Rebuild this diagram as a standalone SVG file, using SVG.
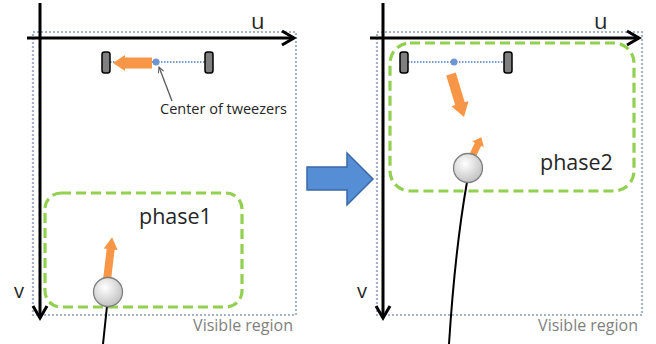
<svg xmlns="http://www.w3.org/2000/svg" width="656" height="344" viewBox="0 0 656 344">
<defs>
<style>
.vis{fill:none;stroke:#a8b3c8;stroke-width:2.2;stroke-dasharray:2 2}
.axis{fill:none;stroke:#000;stroke-width:3}
.head{fill:none;stroke:#000;stroke-width:3;stroke-linejoin:miter}
.phase{fill:none;stroke:#92d050;stroke-width:3.2;stroke-dasharray:10 5}
.tw{fill:#7f7f7f;stroke:#000;stroke-width:1.5}
.dl{stroke:#4a7fc8;stroke-width:1.5;stroke-dasharray:1.5 1.5}
.dot{fill:#6f95d0}
.or{fill:#f79646}
.ball{fill:url(#bg);stroke:#7f7f7f;stroke-width:1.3}
.wire{fill:none;stroke:#000;stroke-width:2}
.lbl{font-family:"Open Sans","Liberation Sans",sans-serif;fill:#262626}
.vr{font-family:"Open Sans","Liberation Sans",sans-serif;fill:#7f7f7f;font-size:16px}
</style>
<radialGradient id="bg" cx="0.4" cy="0.35" r="0.7">
<stop offset="0" stop-color="#ffffff"/>
<stop offset="1" stop-color="#bfbfbf"/>
</radialGradient>
<marker id="ptr" viewBox="0 0 10 10" refX="9" refY="5" markerWidth="7" markerHeight="7" orient="auto" markerUnits="userSpaceOnUse">
<path d="M1,1 L9,5 L1,9" fill="none" stroke="#595959" stroke-width="1.5"/>
</marker>
</defs>

<g id="panel1">
<rect class="vis" x="33" y="32" width="263" height="283"/>
<g id="phase1">
<rect class="phase" x="45" y="193" width="197" height="114" rx="16"/>
<text class="lbl" x="139" y="224" font-size="21.5">phase1</text>
</g>
<g id="axes1">
<line class="axis" x1="27" y1="38" x2="294" y2="38"/>
<path class="head" d="M282,31 L294,38 L282,45"/>
<line class="axis" x1="40" y1="3" x2="40" y2="318"/>
<path class="head" d="M33,306 L40,318 L47,306"/>
<text class="lbl" x="251" y="29" font-size="22">u</text>
<text class="lbl" x="14" y="298" font-size="20">v</text>
<text class="vr" x="293" y="331" text-anchor="end">Visible region</text>
</g>
<g id="tweezers1">
<line class="dl" x1="110" y1="62" x2="205" y2="62"/>
<rect class="tw" x="102" y="52" width="8" height="21" rx="2.5"/>
<rect class="tw" x="205" y="52" width="8" height="21" rx="2.5"/>
<polygon class="or" transform="translate(152,63) rotate(180)" points="0,-5.5 27,-5.5 27,-8 39,0 27,8 27,5.5 0,5.5"/>
<circle class="dot" cx="156" cy="62" r="3.5"/>
</g>
<g id="label-center">
<line x1="172" y1="101" x2="159" y2="67" stroke="#595959" stroke-width="1.3" marker-end="url(#ptr)"/>
<text class="lbl" x="160" y="114" font-size="14.5">Center of tweezers</text>
</g>
<g id="ball1">
<path class="wire" d="M107,306 L103,344"/>
<polygon class="or" transform="translate(107,280) rotate(-83.2)" points="0,-4 31,-4 31,-7 43,0 31,7 31,4 0,4"/>
<circle class="ball" cx="108" cy="292" r="14.5"/>
</g>
</g>

<g id="transition">
<polygon points="307,167 347,167 347,153 373,179 347,205 347,190 307,190" fill="#558ed5" stroke="#3a6aa6" stroke-width="1.5"/>
</g>

<g id="panel2">
<rect class="vis" x="377" y="32" width="265" height="283"/>
<g id="phase2">
<rect class="phase" x="390" y="43" width="244" height="148" rx="20"/>
<text class="lbl" x="540" y="170" font-size="21.5">phase2</text>
</g>
<g id="axes2">
<line class="axis" x1="370" y1="38" x2="639" y2="38"/>
<path class="head" d="M627,31 L639,38 L627,45"/>
<line class="axis" x1="383" y1="3" x2="383" y2="318"/>
<path class="head" d="M376,306 L383,318 L390,306"/>
<text class="lbl" x="594" y="29" font-size="22">u</text>
<text class="lbl" x="357" y="298" font-size="20">v</text>
<text class="vr" x="638" y="331" text-anchor="end">Visible region</text>
</g>
<g id="tweezers2">
<line class="dl" x1="408" y1="62" x2="503" y2="62"/>
<rect class="tw" x="400" y="52" width="8" height="21" rx="2.5"/>
<rect class="tw" x="504" y="52" width="8" height="21" rx="2.5"/>
<circle class="dot" cx="454" cy="62" r="3.5"/>
<polygon class="or" transform="translate(451,74) rotate(73.2)" points="0,-5 31,-5 31,-9 45,0 31,9 31,5 0,5"/>
</g>
<g id="ball2">
<path class="wire" d="M467,182 Q455,250 449,344"/>
<polygon class="or" transform="translate(472,157) rotate(-64.6)" points="0,-3.5 14,-3.5 14,-6.5 22,0 14,6.5 14,3.5 0,3.5"/>
<circle class="ball" cx="468" cy="168" r="14.5"/>
</g>
</g>
</svg>
